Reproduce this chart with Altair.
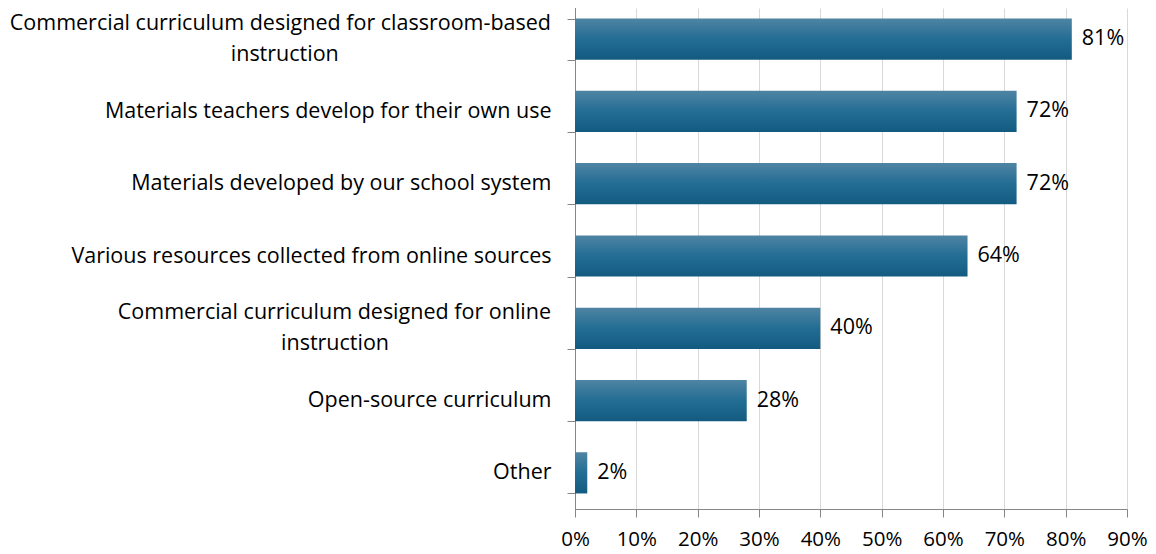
import altair as alt
import pandas as pd

categories = [
    "Commercial curriculum designed for classroom-based|instruction",
    "Materials teachers develop for their own use",
    "Materials developed by our school system",
    "Various resources collected from online sources",
    "Commercial curriculum designed for online|instruction",
    "Open-source curriculum",
    "Other",
]
values = [81, 72, 72, 64, 40, 28, 2]
x_ticks = [0, 10, 20, 30, 40, 50, 60, 70, 80, 90]

df = pd.DataFrame({"category": categories, "value": values})
df["label"] = df["value"].astype(str) + "%"

FONT = "Open Sans"
FS = 21.5
LINE_H = 31

# Two-line category names ('|' separated) are drawn by a text layer so that the
# block can be centred on its bar; the second line is padded at its end with
# no-break spaces (closed by a zero-width space so they are not trimmed) so that
# it sits centred under the right-aligned first line.
L = "split(datum.category, '|')"
multi_expr = (
    f"length({L}) > 1 ? {L}[0] + '|' + pad({L}[1], length({L}[1]) + "
    f"round((length({L}[0]) - length({L}[1])) * 0.98), '\u00a0') + '\u200b' : ''"
)

y_enc = alt.Y(
    "category:N",
    sort=None,
    scale=alt.Scale(range=[-5, 501], paddingInner=0.43, paddingOuter=0.215),
    axis=alt.Axis(
        title=None,
        labelExpr="indexof(datum.label, '|') >= 0 ? '' : datum.label",
        labelFont=FONT,
        labelFontSize=FS,
        labelColor="#000000",
        labelAlign="right",
        labelPadding=16,
        labelLimit=700,
        tickBand="extent",
        tickSize=8,
        tickColor="#868686",
        domainColor="#868686",
        grid=False,
    ),
)

x_enc = alt.X(
    "value:Q",
    scale=alt.Scale(domain=[0, 90], nice=False),
    axis=alt.Axis(
        title=None,
        values=x_ticks,
        labelExpr="datum.value + '%'",
        labelFont=FONT,
        labelFontSize=20.5,
        labelColor="#000000",
        labelPadding=12,
        tickSize=8,
        tickColor="#868686",
        domainColor="#868686",
        grid=True,
        gridColor="#d9d9d9",
        labelFlush=False,
    ),
)

bars = alt.Chart(df).mark_bar(
    color=alt.Gradient(
        gradient="linear",
        stops=[
            alt.GradientStop(color="#4f84a3", offset=0),
            alt.GradientStop(color="#236d94", offset=0.5),
            alt.GradientStop(color="#135a80", offset=1),
        ],
        x1=0, x2=0, y1=0, y2=1,
    )
).encode(x=x_enc, y=y_enc)

text = alt.Chart(df).mark_text(
    align="left", baseline="middle", dx=10, font=FONT, fontSize=FS, color="#000000"
).encode(x="value:Q", y=alt.Y("category:N", sort=None), text="label:N")

multi_labels = alt.Chart(df).transform_calculate(
    lbl=multi_expr
).mark_text(
    align="right", baseline="middle", dx=-24, dy=-LINE_H / 2, lineBreak="|",
    lineHeight=LINE_H, font=FONT, fontSize=FS, color="#000000",
).encode(x=alt.datum(0), y=alt.Y("category:N", sort=None), text="lbl:N")

chart = (bars + text + multi_labels).properties(
    width=552,
    height=501,
    autosize=alt.AutoSizeParams(type="none"),
    padding={"left": 567, "top": 0, "right": 21, "bottom": 44},
).configure_view(stroke=None)

chart.save("out.html", embed_options={"renderer": "svg", "actions": False})
